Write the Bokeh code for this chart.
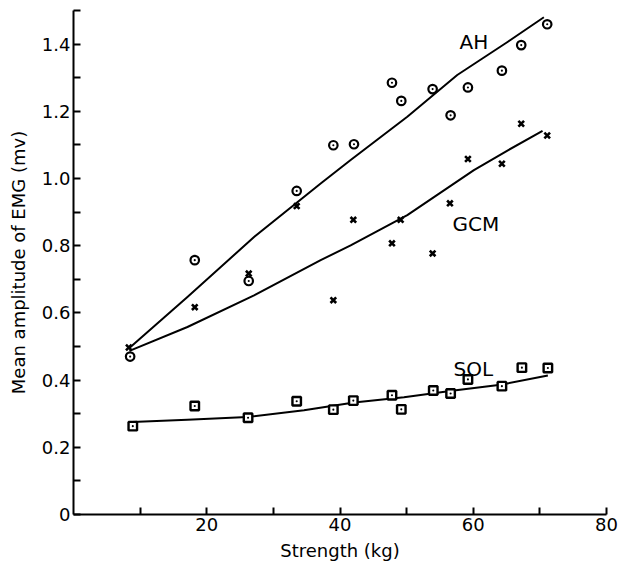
from bokeh.plotting import figure
from bokeh.models import FixedTicker, Range1d, Label
from bokeh.embed import file_html
from bokeh.resources import INLINE

# ---- data ----
ah_x = [8.5, 18.2, 26.3, 33.5, 39.0, 42.1, 47.8, 49.2, 53.9, 56.6, 59.2, 64.3, 67.2, 71.1]
ah_y = [0.47, 0.757, 0.695, 0.963, 1.099, 1.102, 1.285, 1.231, 1.266, 1.188, 1.271, 1.321, 1.397, 1.459]

gcm_x = [8.3, 18.2, 26.3, 33.5, 39.0, 42.0, 47.8, 49.1, 53.9, 56.5, 59.2, 64.3, 67.2, 71.1]
gcm_y = [0.497, 0.617, 0.717, 0.918, 0.638, 0.877, 0.807, 0.877, 0.777, 0.926, 1.058, 1.044, 1.163, 1.128]

sol_x = [8.9, 18.2, 26.2, 33.5, 39.0, 42.0, 47.8, 49.2, 54.0, 56.6, 59.2, 64.3, 67.3, 71.2]
sol_y = [0.263, 0.323, 0.288, 0.337, 0.312, 0.339, 0.355, 0.313, 0.369, 0.360, 0.402, 0.382, 0.437, 0.436]

# fitted curves
ah_fit_x = [8.3, 17.1, 27.1, 37.1, 41.6, 50.1, 57.6, 65.2, 70.6]
ah_fit_y = [0.494, 0.647, 0.826, 0.985, 1.055, 1.184, 1.308, 1.407, 1.480]

gcm_fit_x = [8.4, 17.1, 27.1, 37.1, 41.6, 50.1, 60.1, 65.2, 70.4]
gcm_fit_y = [0.487, 0.558, 0.652, 0.757, 0.801, 0.891, 1.025, 1.084, 1.142]

sol_fit_x = [8.8, 17.1, 26.1, 34.6, 42.1, 49.6, 57.1, 64.1, 71.2]
sol_fit_y = [0.275, 0.282, 0.290, 0.310, 0.333, 0.349, 0.369, 0.386, 0.414]

curve_labels = ["AH", "GCM", "SOL"]
label_x = [60.1, 60.4, 60.0]
label_y = [1.407, 0.866, 0.434]

x_major = [20, 40, 60, 80]
x_minor = [10, 30, 50, 70]
y_major = [0, 0.2, 0.4, 0.6, 0.8, 1.0, 1.2, 1.4]
y_minor = [0.1, 0.3, 0.5, 0.7, 0.9, 1.1, 1.3, 1.5]
y_tick_labels = ["0", "0.2", "0.4", "0.6", "0.8", "1.0", "1.2", "1.4"]

FONT = "DejaVu Sans"

p = figure(frame_width=533, frame_height=504, output_backend="svg",
           toolbar_location=None, x_range=Range1d(0, 80), y_range=Range1d(0, 1.5),
           min_border_left=73, min_border_top=10, min_border_right=14, min_border_bottom=45)
p.outline_line_color = None
p.grid.visible = False
p.background_fill_color = "white"
p.border_fill_color = "white"

# curves
for fx, fy in ((ah_fit_x, ah_fit_y), (gcm_fit_x, gcm_fit_y), (sol_fit_x, sol_fit_y)):
    p.line(fx, fy, line_color="black", line_width=2, line_join="round")

# points
p.scatter(ah_x, ah_y, marker="circle_dot", size=8.5, line_color="black",
          fill_color="white", line_width=2.2)
p.scatter(gcm_x, gcm_y, marker="x", size=8, line_color="black", line_width=2.6)
p.scatter(sol_x, sol_y, marker="square_dot", size=8.5, line_color="black",
          fill_color="white", line_width=2.4)

for t, lx, ly in zip(curve_labels, label_x, label_y):
    p.add_layout(Label(x=lx, y=ly, text=t, text_align="center", text_baseline="middle",
                       text_font=FONT, text_font_size="20px", text_color="black"))

# axes
xa = p.xaxis[0]
xa.ticker = FixedTicker(ticks=x_major, minor_ticks=x_minor)
xa.axis_label = "Strength (kg)"
ya = p.yaxis[0]
ya.ticker = FixedTicker(ticks=y_major, minor_ticks=y_minor)
ya.major_label_overrides = {v: s for v, s in zip(y_major, y_tick_labels)}
ya.axis_label = "Mean amplitude of EMG (mv)"

for ax in (xa, ya):
    ax.axis_line_color = "black"
    ax.axis_line_width = 2
    ax.major_tick_line_color = "black"
    ax.minor_tick_line_color = "black"
    ax.major_tick_line_width = 2
    ax.minor_tick_line_width = 2
    ax.major_tick_in = 7
    ax.major_tick_out = 0
    ax.minor_tick_in = 7
    ax.minor_tick_out = 0
    ax.major_label_text_font = FONT
    ax.major_label_text_font_size = "18px"
    ax.major_label_text_color = "black"
    ax.major_label_standoff = 3
    ax.axis_label_text_font = FONT
    ax.axis_label_text_font_size = "18px"
    ax.axis_label_text_font_style = "normal"
    ax.axis_label_text_color = "black"
ya.axis_label_standoff = 10
xa.axis_label_standoff = 6

open("out.html", "w").write(file_html(p, INLINE))
